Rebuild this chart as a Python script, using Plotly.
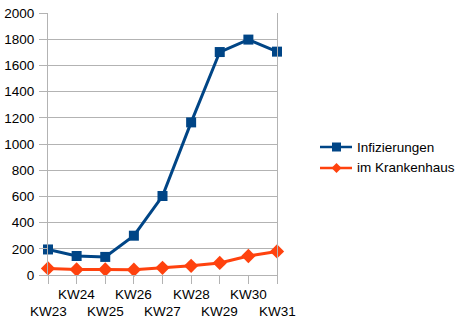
import plotly.graph_objects as go

categories = ["KW23", "KW24", "KW25", "KW26", "KW27", "KW28", "KW29", "KW30", "KW31"]
series_names = ["Infizierungen", "im Krankenhaus"]
infizierungen = [195, 145, 138, 300, 603, 1165, 1702, 1797, 1705]
krankenhaus = [50, 42, 42, 40, 55, 70, 92, 145, 180]
y_ticks = list(range(0, 2001, 200))

FONT = "Liberation Sans, Arial, sans-serif"
GRID = "#b3b3b3"
COLORS = ["#004586", "#ff420e"]
SYMBOLS = ["square", "diamond"]
idx = list(range(len(categories)))

W, H = 462, 327
ML, MR, MT, MB = 48, 185, 13, 52
PW, PH = W - ML - MR, H - MT - MB


def px(x):
    return (x - ML) / PW


def py(y):
    return (H - MB - y) / PH


fig = go.Figure()
for name, vals, col, sym, size in zip(series_names, [infizierungen, krankenhaus], COLORS, SYMBOLS, [10, 11]):
    fig.add_trace(go.Scatter(
        x=idx, y=vals, name=name, mode="lines+markers",
        line=dict(color=col, width=3), cliponaxis=False,
        marker=dict(symbol=sym, size=size, color=col),
        showlegend=False,
    ))

for i, c in enumerate(categories):
    fig.add_annotation(
        x=i, y=0, xref="x", yref="paper", text=c, showarrow=False,
        yanchor="top", xanchor="center",
        yshift=-10 if i % 2 == 1 else -27,
        font=dict(family=FONT, size=13.5, color="#000000"),
    )

# custom legend
legend_y = [147, 168]
for name, col, sym, ly in zip(series_names, COLORS, SYMBOLS, legend_y):
    fig.add_shape(type="line", xref="paper", yref="paper",
                  x0=px(320), x1=px(352), y0=py(ly), y1=py(ly),
                  line=dict(color=col, width=2.5))
    if sym == "square":
        fig.add_shape(type="rect", xref="paper", yref="paper",
                      x0=px(332), x1=px(341), y0=py(ly - 4.5), y1=py(ly + 4.5),
                      fillcolor=col, line=dict(width=0))
    else:
        cx = 336.5
        path = (f"M {px(cx)},{py(ly - 5)} L {px(cx + 5)},{py(ly)} "
                f"L {px(cx)},{py(ly + 5)} L {px(cx - 5)},{py(ly)} Z")
        fig.add_shape(type="path", xref="paper", yref="paper", path=path,
                      fillcolor=col, line=dict(width=0))
    fig.add_annotation(x=px(355), y=py(ly), xref="paper", yref="paper",
                       text=name, showarrow=False, xanchor="left", yanchor="middle",
                       font=dict(family=FONT, size=13.5, color="#000000"))

fig.update_layout(
    width=W, height=H,
    margin=dict(l=ML, r=MR, t=MT, b=MB),
    paper_bgcolor="white", plot_bgcolor="white",
    font=dict(family=FONT, size=13.5, color="#000000"),
    showlegend=False,
    xaxis=dict(
        range=[0, len(categories) - 1], tickmode="array", tickvals=idx,
        showticklabels=False, ticks="outside", ticklen=8, tickcolor=GRID,
        showgrid=False, showline=True, linecolor=GRID,
        zeroline=False, automargin=False,
    ),
    yaxis=dict(
        range=[0, 2000], tickmode="array", tickvals=y_ticks,
        ticktext=[str(v) for v in y_ticks],
        ticks="outside", ticklen=8, tickcolor=GRID,
        showgrid=True, gridcolor=GRID, gridwidth=1,
        showline=True, linecolor=GRID, mirror=True, zeroline=False,
        ticklabelstandoff=2, automargin=False,
    ),
)

fig.write_html("out.html")
